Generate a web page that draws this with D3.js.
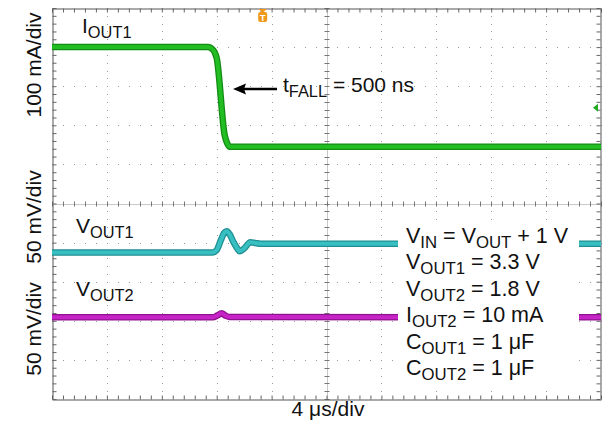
<!DOCTYPE html>
<html>
<head>
<meta charset="utf-8">
<script src="https://cdn.jsdelivr.net/npm/d3@7"></script>
<style>
  body { margin: 0; background: #fff; }
  svg { display: block; font-family: "Liberation Sans", Arial, Helvetica, sans-serif; }
</style>
</head>
<body>
<div id="scope"></div>
<script>
// ---- data (time in µs) ----
const iOut1Time = [-20, -8.65, -8.36, -8.15, -8.0, -7.42, -7.27, -7.05, 20];
const iOut1 = [255, 255, 251, 242, 227, 30, 12, 0, 0];           // mA

const vOut1Time = [-20, -8.3, -8.0, -7.71, -7.45, -7.27, -7.05, -6.8, -6.5, -6.33, -6.0, -5.55, -5.2, -4.8, 20];
const vOut1 = [0, 0, 3, 15, 25, 27, 23, 14, 5, 1.5, 5, 13, 12, 11, 11];  // mV

const vOut2Time = [-20, -8.29, -7.93, -7.64, -7.35, -7.05, 20];
const vOut2 = [0, 0, 2.5, 5, 2, 0.3, 0];                          // mV

const triggerTime = -4.65;     // µs
const triggerLevel = 100;      // mA on I_OUT1

const conditions = [
  [["V", ""], ["IN", "sub"], [" = V", ""], ["OUT", "sub"], [" + 1 V", ""]],
  [["V", ""], ["OUT1", "sub"], [" = 3.3 V", ""]],
  [["V", ""], ["OUT2", "sub"], [" = 1.8 V", ""]],
  [["I", ""], ["OUT2", "sub"], [" = 10 mA", ""]],
  [["C", ""], ["OUT1", "sub"], [" = 1 μF", ""]],
  [["C", ""], ["OUT2", "sub"], [" = 1 μF", ""]]
];

// ---- layout ----
const W = 602, H = 423;
const pLeft = 52, pRight = 601, pTop = 8, pBottom = 399;

const svg = d3.select("#scope").append("svg")
  .attr("width", W)
  .attr("height", H);

// 4 µs/div, 10 divisions across; 10 divisions vertically
const x = d3.scaleLinear().domain([-20, 20]).range([pLeft, pRight]);
const y = d3.scaleLinear().domain([-5, 5]).range([pBottom, pTop]);

const majorX = d3.range(-20, 20.01, 4);
const minorX = d3.range(-20, 20.01, 0.8);
const majorY = d3.range(-5, 5.01, 1);
const minorY = d3.range(-5, 5.01, 0.2);

// dotted graticule
const grid = svg.append("g").attr("fill", "#9a9a9a");
majorX.slice(1, -1).forEach(t => {
  if (Math.abs(t) < 1e-9) return;
  minorY.forEach(v => grid.append("rect")
    .attr("x", Math.round(x(t))).attr("y", Math.round(y(v)))
    .attr("width", 1).attr("height", 1));
});
majorY.slice(1, -1).forEach(v => {
  if (Math.abs(v) < 1e-9) return;
  minorX.forEach(t => grid.append("rect")
    .attr("x", Math.round(x(t))).attr("y", Math.round(y(v)))
    .attr("width", 1).attr("height", 1));
});

// center cross with minor ticks
svg.append("line")
  .attr("x1", pLeft).attr("x2", pRight)
  .attr("y1", Math.round(y(0)) + 0.5).attr("y2", Math.round(y(0)) + 0.5)
  .attr("stroke", "#c8c8c8");
svg.append("line")
  .attr("x1", Math.round(x(0)) + 0.5).attr("x2", Math.round(x(0)) + 0.5)
  .attr("y1", pTop).attr("y2", pBottom)
  .attr("stroke", "#c8c8c8");
minorX.forEach(t => svg.append("line")
  .attr("x1", Math.round(x(t)) + 0.5).attr("x2", Math.round(x(t)) + 0.5)
  .attr("y1", y(0) - 2).attr("y2", y(0) + 3)
  .attr("stroke", "#777"));
minorY.forEach(v => svg.append("line")
  .attr("x1", x(0) - 2).attr("x2", x(0) + 3)
  .attr("y1", Math.round(y(v)) + 0.5).attr("y2", Math.round(y(v)) + 0.5)
  .attr("stroke", "#777"));

// frame ticks through d3 axes (no labels)
const frameAxis = (axis, tx, ty) => svg.append("g")
  .attr("transform", `translate(${tx},${ty})`)
  .call(axis.tickFormat("").tickSizeOuter(0))
  .call(g => g.select(".domain").attr("stroke", "#555"))
  .call(g => g.selectAll(".tick line").attr("stroke", "#666"));

frameAxis(d3.axisBottom(x).tickValues(minorX).tickSize(-4), 0, pBottom + 0.5);
frameAxis(d3.axisTop(x).tickValues(minorX).tickSize(-4), 0, pTop + 0.5);
frameAxis(d3.axisLeft(y).tickValues(minorY).tickSize(-4), pLeft + 0.5, 0);
frameAxis(d3.axisRight(y).tickValues(minorY).tickSize(-4), pRight - 0.5, 0);

// ---- traces ----
svg.append("clipPath").attr("id", "plotClip")
  .append("rect").attr("x", pLeft).attr("y", pTop)
  .attr("width", pRight - pLeft).attr("height", pBottom - pTop);

const traces = svg.append("g").attr("clip-path", "url(#plotClip)");

function drawTrace(times, values, perDiv, offsetDiv, edge, core) {
  const line = d3.line()
    .x((d, i) => x(times[i]))
    .y(d => y(offsetDiv + d / perDiv))
    .curve(d3.curveMonotoneX);
  traces.append("path").datum(values)
    .attr("d", line).attr("fill", "none")
    .attr("stroke", edge).attr("stroke-width", 6.5)
    .attr("stroke-linejoin", "round");
  traces.append("path").datum(values)
    .attr("d", line).attr("fill", "none")
    .attr("stroke", core).attr("stroke-width", 4)
    .attr("stroke-linejoin", "round");
}

drawTrace(iOut1Time, iOut1, 100, 1.45, "#138c13", "#22bd22");
drawTrace(vOut1Time, vOut1, 50, -1.25, "#1f8f92", "#38bfc2");
drawTrace(vOut2Time, vOut2, 50, -2.91, "#8e128e", "#c624c6");

// trigger position marker (top) and trigger level marker (right)
const trigX = x(triggerTime);
svg.append("path")
  .attr("d", `M${trigX - 4},${pTop + 1} L${trigX + 4},${pTop + 1} L${trigX},${pTop + 5} Z`)
  .attr("fill", "#f09a1c");
svg.append("rect")
  .attr("x", trigX - 4.5).attr("y", pTop + 4).attr("width", 9).attr("height", 10)
  .attr("rx", 2).attr("fill", "#f09a1c");
svg.append("text")
  .attr("x", trigX).attr("y", pTop + 12.5)
  .attr("text-anchor", "middle").attr("font-size", 9).attr("font-weight", "bold")
  .attr("fill", "#fff").text("T");

const trigY = y(1.45 + triggerLevel / 100);
svg.append("path")
  .attr("d", `M${pRight - 8},${trigY} L${pRight - 3},${trigY - 4} L${pRight - 3},${trigY + 4} Z`)
  .attr("fill", "#22aa22");

// ---- conditions box ----
svg.append("rect")
  .attr("x", 398).attr("y", 222).attr("width", 181).attr("height", 164)
  .attr("fill", "#fff");

function richText(parts, px, py, size) {
  const t = svg.append("text").attr("x", px).attr("y", py)
    .attr("font-size", size).attr("fill", "#111");
  let shifted = false;
  parts.forEach(([s, kind]) => {
    const span = t.append("tspan").text(s);
    if (kind === "sub" && !shifted) { span.attr("dy", 5).attr("font-size", size * 0.78); shifted = true; }
    else if (kind === "sub") { span.attr("font-size", size * 0.78); }
    else if (shifted) { span.attr("dy", -5); shifted = false; }
  });
  return t;
}

conditions.forEach((parts, i) => richText(parts, 406, 243 + i * 26.4, 21.5));

// trace labels
richText([["I", ""], ["OUT1", "sub"]], 82, 33, 21);
richText([["V", ""], ["OUT1", "sub"]], 76, 233, 21);
richText([["V", ""], ["OUT2", "sub"]], 76, 296, 21);

// fall-time annotation
svg.append("line")
  .attr("x1", 277).attr("x2", 243).attr("y1", 89).attr("y2", 89)
  .attr("stroke", "#000").attr("stroke-width", 2.5);
svg.append("path")
  .attr("d", "M233,89 L246,83.5 L244,89 L246,94.5 Z")
  .attr("fill", "#000");
richText([["t", ""], ["FALL", "sub"], [" = 500 ns", ""]], 283, 92, 21);

// axis captions
const vLabel = (txt, cy) => svg.append("text")
  .attr("transform", `translate(41,${cy}) rotate(-90)`)
  .attr("text-anchor", "middle").attr("font-size", 21).attr("fill", "#111")
  .text(txt);
vLabel("100 mA/div", 65);
vLabel("50 mV/div", 217);
vLabel("50 mV/div", 329);

svg.append("text")
  .attr("x", 328).attr("y", 416)
  .attr("text-anchor", "middle").attr("font-size", 21).attr("fill", "#111")
  .text("4 μs/div");
</script>
</body>
</html>
